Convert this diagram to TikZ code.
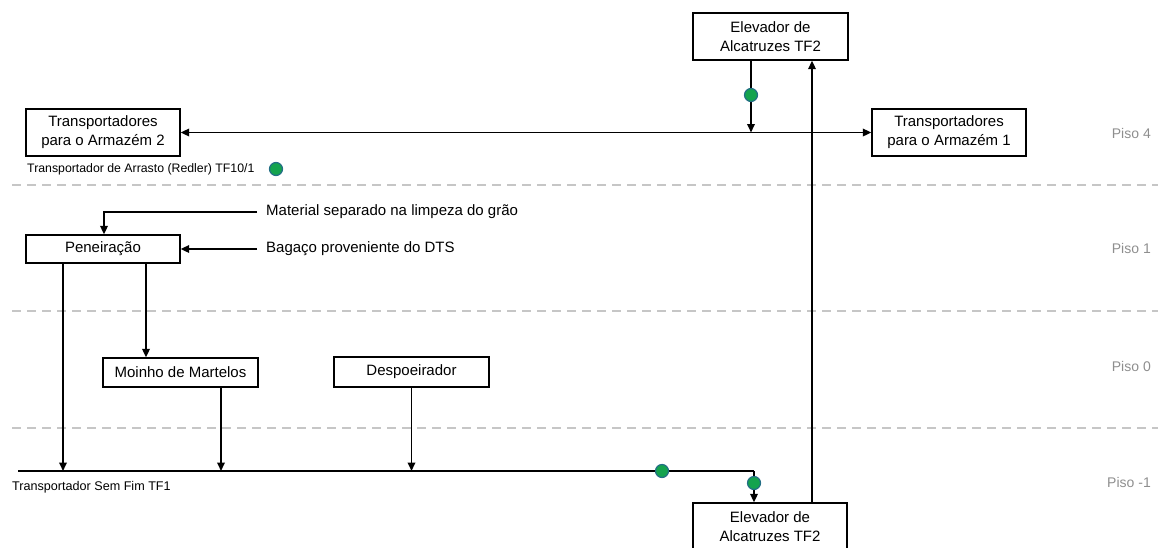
\documentclass[tikz,border=0pt]{standalone}
\usepackage{fontspec}
\setmainfont{Liberation Sans}
\usetikzlibrary{arrows.meta}
\definecolor{dotfill}{HTML}{14A34E}
\definecolor{dotline}{HTML}{236E86}
\definecolor{floorgray}{HTML}{8E8E8E}
\definecolor{dashgray}{HTML}{C6C6C6}
\begin{document}
\begin{tikzpicture}[x=1pt,y=-1pt,
  box/.style={draw, line width=1.3pt, rectangle, inner sep=0pt, align=center,
    font=\fontsize{15}{19}\selectfont},
  flow/.style={line width=1.8pt, -{Triangle[length=8.5pt,width=7.5pt]}},
  plain/.style={line width=1.8pt},
  floorline/.style={draw=dashgray, line width=1.6pt, dash pattern=on 9pt off 6pt},
  floorlabel/.style={anchor=east, inner sep=0pt, text=floorgray, font=\fontsize{14}{16}\selectfont},
  sidetext/.style={anchor=west, inner sep=0pt, font=\fontsize{15}{18}\selectfont},
  smalltext/.style={anchor=west, inner sep=0pt, font=\fontsize{12.3}{14}\selectfont},
  gdot/.style={circle, fill=dotfill, draw=dotline, line width=1.2pt, minimum size=13pt, inner sep=0pt}]
\clip (0,0) rectangle (1158,547);

% floor separators
\draw[floorline] (12,185) -- (1158,185);
\draw[floorline] (12,311) -- (1158,311);
\draw[floorline] (12,428) -- (1158,428);

% floor labels
\node[floorlabel] (p4) at (1151,133) {Piso 4};
\node[floorlabel] (p1) at (1151,248) {Piso 1};
\node[floorlabel] (p0) at (1151,366) {Piso 0};
\node[floorlabel] (pm1) at (1151,482) {Piso -1};

% equipment
\node[box, minimum width=155pt, minimum height=47pt] (elevTop) at (770.5,36.5) {Elevador de\\Alcatruzes TF2};
\node[box, minimum width=154pt, minimum height=47pt] (arm2) at (103,132.5) {Transportadores\\para o Armazém 2};
\node[box, minimum width=154pt, minimum height=47pt] (arm1) at (949,132.5) {Transportadores\\para o Armazém 1};
\node[box, minimum width=154pt, minimum height=28pt] (pen) at (103,249) {Peneiração};
\node[box, minimum width=155pt, minimum height=29pt] (moinho) at (180.5,372.5) {Moinho de Martelos};
\node[box, minimum width=155pt, minimum height=30pt] (desp) at (411.5,372) {Despoeirador};
\node[box, minimum width=154pt, minimum height=47pt] (elevBot) at (770,526.5) {Elevador de\\Alcatruzes TF2};

% labels
\node[smalltext] (redler) at (27,169) {Transportador de Arrasto (Redler) TF10/1};
\node[gdot] (dRedler) at (276,169) {};
\node[sidetext] (mat) at (266,212) {Material separado na limpeza do grão};
\node[sidetext] (bag) at (266,249) {Bagaço proveniente do DTS};
\node[smalltext, font=\fontsize{12.6}{14}\selectfont] (semfim) at (12,487) {Transportador Sem Fim TF1};

% junctions
\coordinate (junc) at (751,132.5);
\coordinate (convL) at (18,471);
\coordinate (convR) at (754,471);

% piso 4 distribution
\draw[flow] (elevTop.south -| junc) -- (junc);
\draw[flow] (junc) -- (arm2.east);
\draw[flow] (junc) -- (arm1.west);
\node[gdot] (dTop) at (751,95) {};

% elevator return
\draw[flow] (elevBot.north -| 812,0) -- (elevTop.south -| 812,0);

% piso 1 inputs
\draw[flow] ([xshift=-9pt]mat.west) -| (pen.north -| 104,0);
\draw[flow] ([xshift=-9pt]bag.west) -- (pen.east);

% screening outputs
\draw[flow] (pen.south -| 63,0) -- (63,471);
\draw[flow] (pen.south -| 146,0) -- (moinho.north -| 146,0);
\draw[flow] (moinho.south -| 221,0) -- (221,471);
\draw[flow] (desp.south) -- (desp.south |- convL);

% screw conveyor
\draw[plain] (convL) -- (convR);
\draw[flow] (convR) -- (elevBot.north -| convR);
\node[gdot] (dConv) at (662,471) {};
\node[gdot] (dDown) at (754,483) {};
\end{tikzpicture}
\end{document}
